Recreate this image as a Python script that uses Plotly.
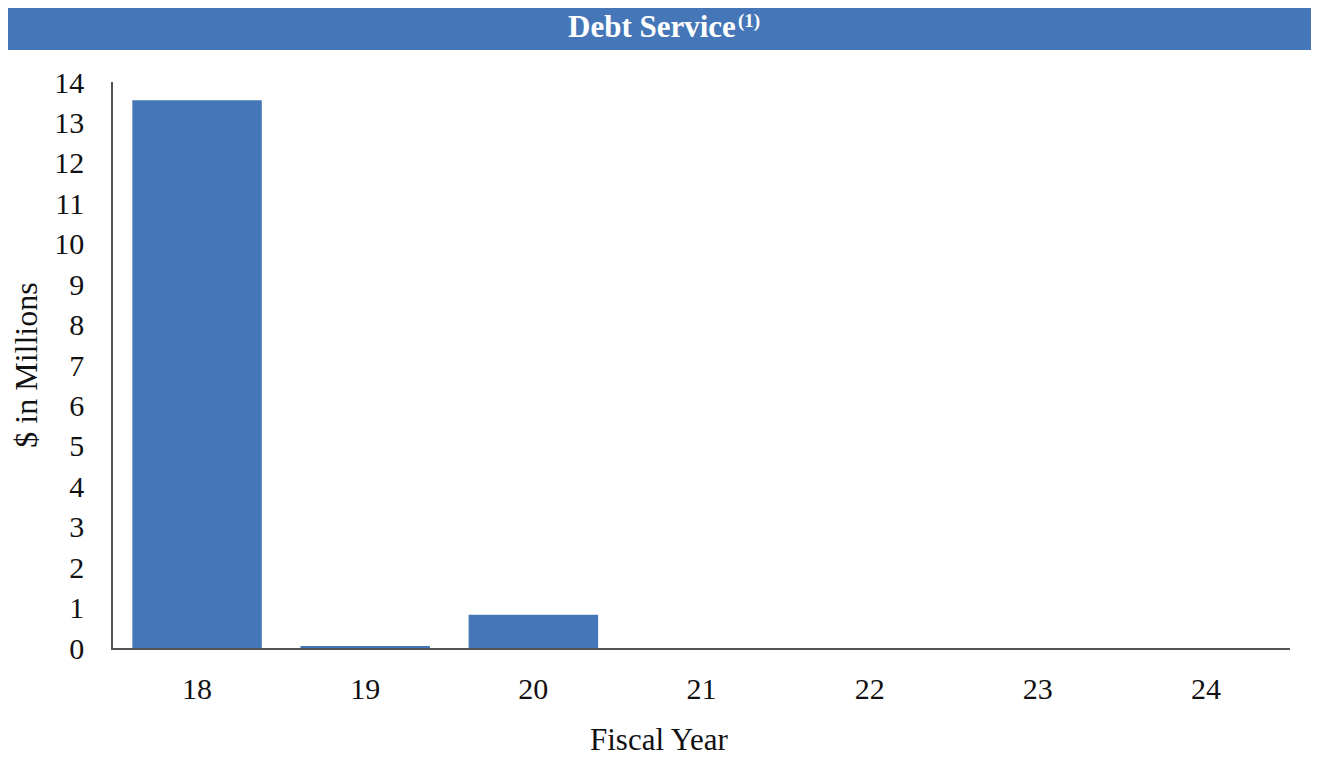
import plotly.graph_objects as go

categories = ["18", "19", "20", "21", "22", "23", "24"]
values = [13.55, 0.05, 0.82, 0.0, 0.0, 0.0, 0.0]
y_ticks = list(range(0, 15))

BLUE = "#4577b8"
FONT = "Liberation Serif, Times New Roman, serif"

# page body has an 8px margin, so the figure is drawn at (8, 8)
W, H = 1311, 749
L, R, T, B = 105, 29, 74, 109
pw, ph = W - L - R, H - T - B

def px_x(px):
    return (px - L) / pw

def px_y(py):
    return (H - B - py) / ph

fig = go.Figure(go.Bar(x=categories, y=values, marker=dict(color=BLUE, line=dict(width=0)),
                       hoverinfo="x+y"))

fig.update_layout(
    width=W, height=H,
    margin=dict(l=L, r=R, t=T, b=B, autoexpand=False),
    paper_bgcolor="white", plot_bgcolor="white",
    bargap=0.23,
    showlegend=False,
    font=dict(family=FONT, size=30, color="#111111"),
    xaxis=dict(type="category", showgrid=False, showline=True, linecolor="#555555", linewidth=1.5,
               ticks="", ticklabelstandoff=13, tickfont=dict(size=30, family=FONT),
               automargin=False),
    yaxis=dict(range=[0, 14], tickvals=y_ticks, showgrid=False, zeroline=False, showline=True,
               linecolor="#555555", linewidth=1.5, ticks="", ticklabelstandoff=21,
               tickfont=dict(size=30, family=FONT), automargin=False,
               title=dict(text="$ in Millions", font=dict(size=32, family=FONT), standoff=10)),
    shapes=[dict(type="rect", xref="paper", yref="paper",
                 x0=px_x(0), x1=px_x(1320), y0=px_y(42), y1=px_y(0),
                 fillcolor=BLUE, line=dict(width=0), layer="below")],
    annotations=[
        dict(text="<b>Debt Service</b>", xref="paper", yref="paper",
             x=px_x(644), y=px_y(19), xanchor="center", yanchor="middle",
             showarrow=False, font=dict(family=FONT, size=31, color="white")),
        dict(text="<b>(1)</b>", xref="paper", yref="paper",
             x=px_x(728), y=px_y(0), xanchor="left", yanchor="top",
             showarrow=False, font=dict(family=FONT, size=19, color="white")),
        dict(text="Fiscal Year", xref="paper", yref="paper",
             x=px_x(651), y=px_y(731), xanchor="center", yanchor="middle",
             showarrow=False, font=dict(family=FONT, size=31, color="#111111")),
    ],
)

fig.write_html("out.html")
